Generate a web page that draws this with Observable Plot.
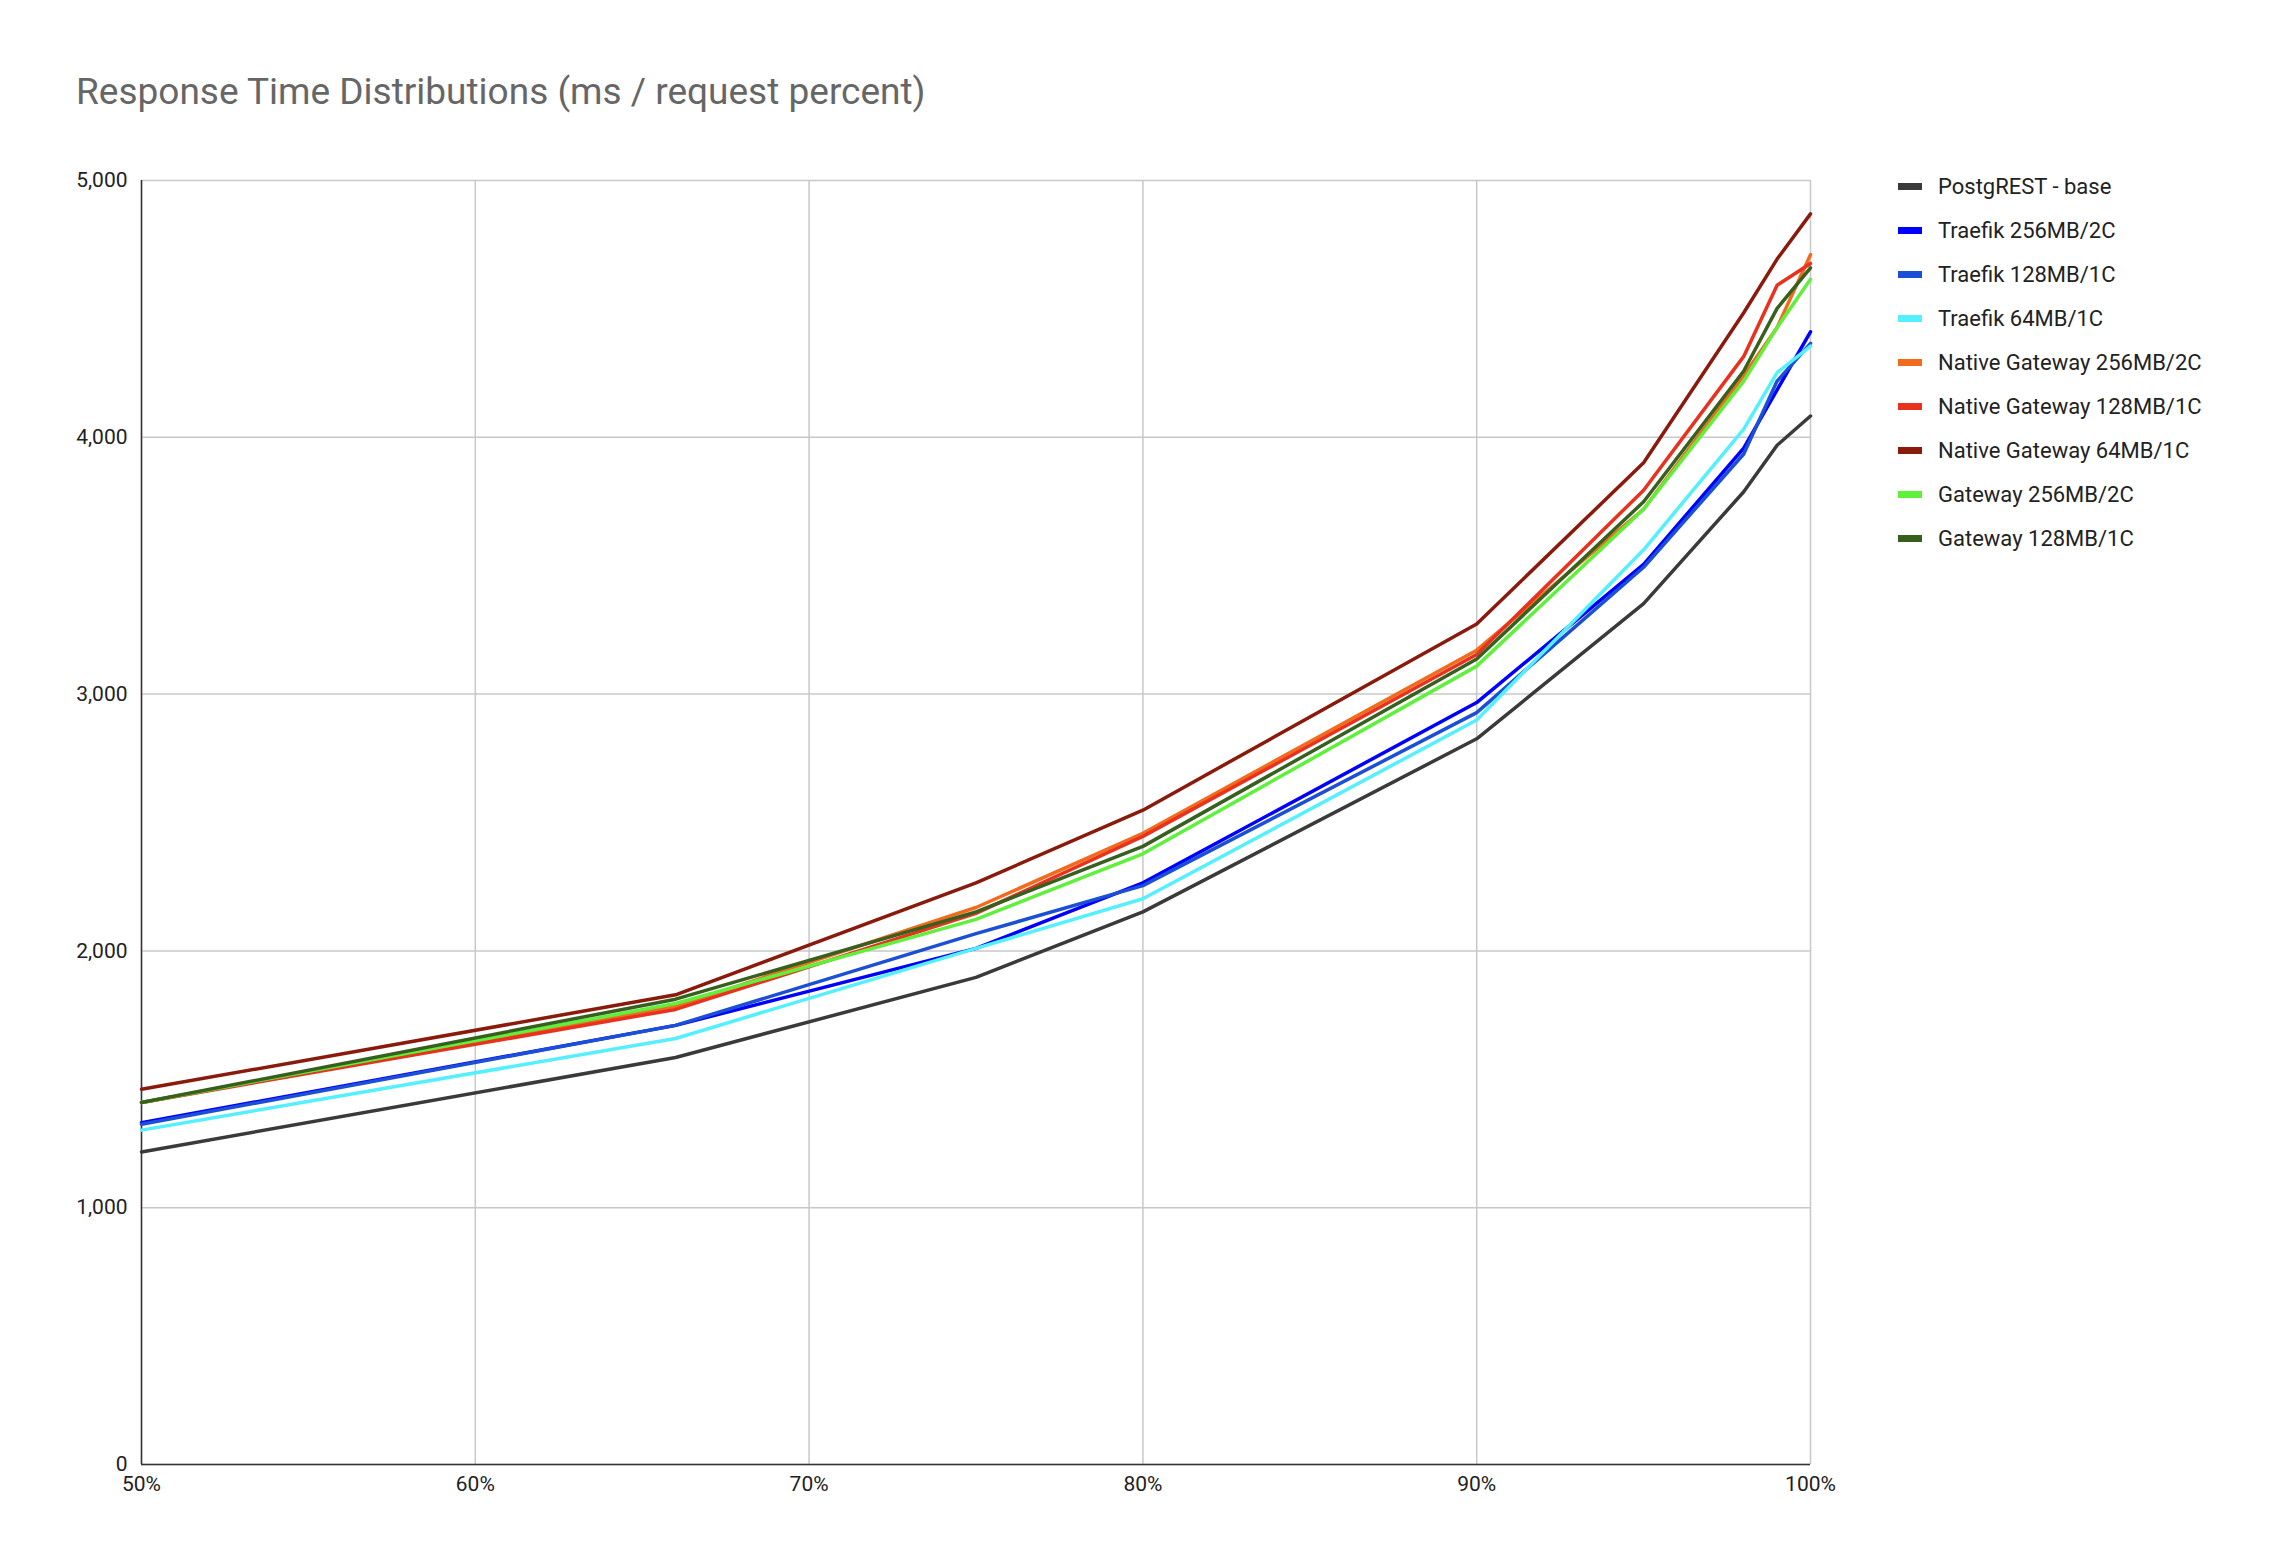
<!DOCTYPE html>
<html><head><meta charset="utf-8">
<script src="https://cdn.jsdelivr.net/npm/d3@7"></script>
<script src="https://cdn.jsdelivr.net/npm/@observablehq/plot@0.6"></script>
<style>
body{margin:0;background:#fff;font-family:Roboto,Arial,sans-serif;}
#wrap{position:relative;width:2280px;height:1560px;}
#title{position:absolute;left:76px;top:70px;font-size:37px;color:#666;}
#legend{position:absolute;left:1898px;top:164px;font-size:22px;color:#222;}
#legend div{height:44px;display:flex;align-items:center;}
#legend span.sw{display:inline-block;width:24px;height:7px;margin-right:16px;}
#chart{position:absolute;left:0;top:0;}
</style></head><body>
<div id="wrap"><div id="chart"></div><div id="title">Response Time Distributions (ms / request percent)</div><div id="legend"></div></div>
<script>
const percents = [50, 66, 75, 80, 90, 95, 98, 99, 100];
const seriesNames = ["PostgREST - base","Traefik 256MB/2C","Traefik 128MB/1C","Traefik 64MB/1C","Native Gateway 256MB/2C","Native Gateway 128MB/1C","Native Gateway 64MB/1C","Gateway 256MB/2C","Gateway 128MB/1C"];
const colors = ["#3a3a3a","#0000ff","#1a4fd6","#55f0ff","#f26b1d","#e8321e","#8a1a0c","#5ef03a","#37601f"];
const postgrestBase = [1217,1585,1897,2152,2826,3352,3788,3969,4083];
const traefik256 = [1331,1710,2010,2265,2967,3505,3958,4185,4411];
const traefik128 = [1325,1710,2067,2254,2928,3494,3935,4219,4366];
const traefik64 = [1302,1659,2010,2203,2899,3562,4032,4252,4355];
const native256 = [1410,1784,2169,2458,3171,3720,4241,4428,4711];
const native128 = [1410,1772,2146,2446,3154,3794,4315,4592,4677];
const native64 = [1461,1829,2265,2548,3273,3901,4485,4694,4870];
const gateway256 = [1410,1795,2123,2378,3109,3720,4219,4428,4615];
const gateway128 = [1410,1812,2152,2407,3137,3749,4258,4502,4660];
const yTicks = [0,1000,2000,3000,4000,5000];
const xTicks = [50,60,70,80,90,100];

const all = [postgrestBase,traefik256,traefik128,traefik64,native256,native128,native64,gateway256,gateway128];
const data = [];
all.forEach((arr,i)=>arr.forEach((v,j)=>data.push({p:percents[j],v,s:seriesNames[i]})));

const chart = Plot.plot({
  width:2280,height:1560,marginLeft:141,marginRight:470,marginTop:180,marginBottom:96,
  style:{fontSize:"21px",fontFamily:"Roboto,Arial,sans-serif",color:"#222"},
  x:{domain:[50,100],ticks:xTicks,tickFormat:d=>d+"%",label:null,tickSize:0,tickPadding:12},
  y:{domain:[0,5000],ticks:yTicks,label:null,tickSize:0,tickPadding:14},
  color:{domain:seriesNames,range:colors},
  marks:[
    Plot.gridX(xTicks,{stroke:"#c8c8c8",strokeOpacity:1,strokeWidth:1.5}),
    Plot.gridY(yTicks,{stroke:"#c8c8c8",strokeOpacity:1,strokeWidth:1.5}),
    Plot.ruleX([50],{stroke:"#333",strokeWidth:1.5}),
    Plot.ruleY([0],{stroke:"#333",strokeWidth:1.5}),
    Plot.axisX({ticks:xTicks,tickFormat:d=>d+"%",tickSize:0,tickPadding:12,label:null}),
    Plot.axisY({ticks:yTicks,tickSize:0,tickPadding:14,label:null}),
    Plot.line(data,{x:"p",y:"v",z:"s",stroke:"s",strokeWidth:3.5})
  ]
});
document.getElementById("chart").appendChild(chart);
const lg=document.getElementById("legend");
seriesNames.forEach((n,i)=>{const d=document.createElement("div");d.innerHTML=`<span class="sw" style="background:${colors[i]}"></span>${n}`;lg.appendChild(d);});
</script></body></html>
